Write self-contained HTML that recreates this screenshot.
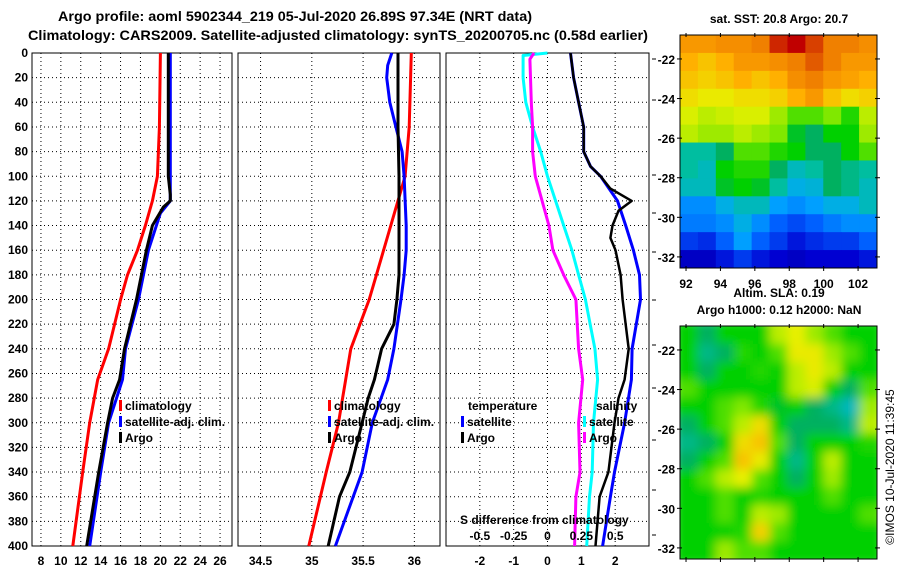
<!DOCTYPE html>
<html><head><meta charset="utf-8">
<style>
html,body{margin:0;padding:0;background:#fff;}
svg{display:block;font-family:"Liberation Sans",sans-serif;font-weight:bold;}
text{fill:#000;}
</style></head>
<body>
<svg id="chart" width="900" height="580" viewBox="0 0 900 580" xmlns="http://www.w3.org/2000/svg">
<text x="295" y="21" font-size="14" text-anchor="middle" textLength="474" lengthAdjust="spacingAndGlyphs">Argo profile: aoml 5902344_219 05-Jul-2020 26.89S 97.34E (NRT data)</text>
<text x="338" y="40" font-size="14" text-anchor="middle" textLength="620" lengthAdjust="spacingAndGlyphs">Climatology: CARS2009. Satellite-adjusted climatology: synTS_20200705.nc (0.58d earlier)</text>
<g id="plots"></g>
<g id="maps"></g>
<text transform="translate(894,467) rotate(-90)" font-size="12" font-weight="normal" text-anchor="middle">©IMOS 10-Jul-2020 11:39:45</text>
</svg>
<script>
// ---------- profile data ----------
const depthTicks = [0,20,40,60,80,100,120,140,160,180,200,220,240,260,280,300,320,340,360,380,400];
const tempTicks = [8,10,12,14,16,18,20,22,24,26];
const salTicks = [34.5,35,35.5,36];
const diffTicks = [-2,-1,0,1,2];
const sDiffTicks = [-0.5,-0.25,0,0.25,0.5];

const tClimDepth = [0,60,100,120,140,160,180,200,240,265,300,340,400];
const tClimVal   = [20.0,19.9,19.7,19.2,18.5,17.7,16.7,16.0,14.8,13.7,12.9,12.2,11.2];
const tSatDepth  = [0,60,120,130,160,200,240,265,300,340,400];
const tSatVal    = [21.0,21.0,21.0,20.0,18.8,17.8,16.5,16.2,14.8,14.0,12.9];
const tArgoDepth = [0,60,100,115,120,125,140,160,200,240,265,280,300,340,360,400];
const tArgoVal   = [20.8,20.8,20.8,21.0,21.0,20.3,19.2,18.6,17.6,16.4,15.9,15.2,14.7,13.8,13.4,12.6];

const sClimDepth = [0,60,100,140,180,200,240,300,340,400];
const sClimVal   = [35.97,35.95,35.91,35.77,35.63,35.56,35.38,35.26,35.14,34.97];
const sSatDepth  = [0,10,20,40,60,80,100,140,160,180,200,240,265,300,340,400];
const sSatVal    = [35.78,35.74,35.73,35.76,35.82,35.88,35.90,35.92,35.92,35.90,35.87,35.80,35.74,35.59,35.49,35.23];
const sArgoDepth = [0,60,100,140,180,200,220,240,265,280,300,340,360,400];
const sArgoVal   = [35.84,35.84,35.85,35.85,35.85,35.83,35.80,35.68,35.61,35.55,35.49,35.37,35.27,35.16];

const dTSatDepth  = [0,20,40,60,80,92,100,120,140,160,180,200,240,265,300,340,360,400];
const dTSatVal    = [0.68,0.77,0.92,1.07,1.07,1.27,1.57,2.07,2.31,2.54,2.72,2.75,2.5,2.48,2.28,1.98,1.86,1.63];
const dTArgoDepth = [0,20,40,60,80,92,100,110,120,128,140,150,160,180,200,240,265,280,300,340,360,400];
const dTArgoVal   = [0.68,0.77,0.92,1.07,1.07,1.27,1.57,1.86,2.49,2.10,1.92,1.86,2.01,2.16,2.22,2.4,2.28,2.1,1.98,1.8,1.54,1.42];
const dSSatDepth  = [0,2,20,40,60,80,100,120,140,160,180,200,240,265,300,340,360,400];
const dSSatVal    = [0,-0.18,-0.18,-0.16,-0.11,-0.05,0,0.06,0.12,0.18,0.23,0.28,0.35,0.37,0.34,0.33,0.31,0.29];
const dSArgoDepth = [0,5,40,60,80,100,120,140,160,180,200,240,265,300,340,360,400];
const dSArgoVal   = [-0.10,-0.13,-0.12,-0.11,-0.11,-0.09,-0.04,0.01,0.04,0.12,0.21,0.23,0.26,0.23,0.24,0.21,0.2];

// ---------- map data (rows lat -21..-33, cols lon 92..102) ----------
const sstGrid = [
[0.80,0.80,0.82,0.82,0.85,0.92,0.95,0.90,0.85,0.85,0.82],
[0.75,0.72,0.75,0.80,0.80,0.82,0.85,0.88,0.85,0.80,0.80],
[0.72,0.70,0.72,0.75,0.72,0.75,0.82,0.85,0.80,0.78,0.75],
[0.68,0.66,0.66,0.68,0.68,0.70,0.75,0.80,0.72,0.68,0.70],
[0.64,0.62,0.63,0.64,0.64,0.60,0.55,0.55,0.58,0.52,0.62],
[0.62,0.60,0.60,0.62,0.60,0.58,0.48,0.45,0.50,0.50,0.60],
[0.40,0.40,0.45,0.55,0.55,0.52,0.50,0.45,0.45,0.50,0.55],
[0.40,0.38,0.50,0.52,0.52,0.45,0.38,0.40,0.45,0.42,0.40],
[0.38,0.38,0.48,0.50,0.48,0.40,0.35,0.36,0.45,0.42,0.38],
[0.30,0.30,0.35,0.38,0.38,0.32,0.30,0.32,0.35,0.35,0.38],
[0.28,0.28,0.30,0.35,0.30,0.25,0.22,0.25,0.28,0.30,0.30],
[0.20,0.18,0.25,0.32,0.25,0.20,0.15,0.18,0.20,0.20,0.25],
[0.10,0.10,0.15,0.20,0.15,0.12,0.10,0.12,0.12,0.12,0.15]];
const slaGrid = [
[0.50,0.45,0.50,0.50,0.50,0.62,0.65,0.60,0.55,0.50,0.50],
[0.50,0.42,0.45,0.52,0.50,0.55,0.66,0.66,0.60,0.55,0.50],
[0.50,0.45,0.50,0.50,0.52,0.50,0.62,0.66,0.62,0.50,0.50],
[0.55,0.50,0.50,0.50,0.50,0.50,0.62,0.64,0.50,0.45,0.55],
[0.50,0.50,0.55,0.58,0.52,0.48,0.50,0.45,0.42,0.38,0.60],
[0.45,0.50,0.55,0.62,0.68,0.50,0.45,0.45,0.45,0.42,0.62],
[0.42,0.45,0.50,0.68,0.72,0.55,0.45,0.50,0.50,0.50,0.52],
[0.45,0.50,0.55,0.72,0.66,0.50,0.42,0.50,0.62,0.50,0.50],
[0.50,0.55,0.62,0.65,0.55,0.50,0.45,0.50,0.60,0.50,0.50],
[0.50,0.50,0.55,0.50,0.52,0.50,0.50,0.50,0.55,0.50,0.50],
[0.50,0.50,0.55,0.50,0.62,0.60,0.50,0.50,0.50,0.50,0.55],
[0.50,0.50,0.50,0.52,0.70,0.55,0.50,0.50,0.50,0.50,0.50],
[0.50,0.50,0.60,0.55,0.55,0.50,0.50,0.50,0.50,0.50,0.50]];
const lonTicks = [92,94,96,98,100,102];
const latTicks = [-22,-24,-26,-28,-30,-32];

const NS='http://www.w3.org/2000/svg';
function mk(tag, attrs, parent){const e=document.createElementNS(NS,tag);for(const k in attrs)e.setAttribute(k,attrs[k]);parent.appendChild(e);return e;}
const plots=document.getElementById('plots');
const TOP=53, BOT=546;
const yD = d => TOP + (d/400)*(BOT-TOP);

const panels = [
 {x0:32,x1:232,min:7.1,max:27.2,ticks:tempTicks,name:'temperature-panel'},
 {x0:238,x1:440,min:34.28,max:36.25,ticks:salTicks,name:'salinity-panel'},
 {x0:446,x1:649,min:-3.0,max:3.0,ticks:diffTicks,name:'difference-panel'}];
panels.forEach(p=>{p.sx=v=>p.x0+(v-p.min)/(p.max-p.min)*(p.x1-p.x0);});

panels.forEach((p,i)=>{
  const g=mk('g',{},plots);
  
  
  depthTicks.forEach(d=>{
    if(d>0&&d<400){const l=mk('line',{x1:p.x0,x2:p.x1,y1:yD(d),y2:yD(d),stroke:'#000','stroke-width':1,'stroke-dasharray':'1,3'},g);
     }
  });
  p.ticks.forEach(t=>{
    const x=p.sx(t);
    const l=mk('line',{x1:x,x2:x,y1:TOP,y2:BOT,stroke:'#000','stroke-width':1,'stroke-dasharray':'1,3'},g);
     
    const tx=mk('text',{x:x,y:565,'font-size':12,'text-anchor':'middle'},g);
    tx.textContent=t;
     
  });
  const r=mk('rect',{x:p.x0,y:TOP,width:p.x1-p.x0,height:BOT-TOP,fill:'none',stroke:'#000','stroke-width':1},g);
   
});
depthTicks.forEach(d=>{
  const t=mk('text',{x:28,y:yD(d)+4,'font-size':12,'text-anchor':'end'},plots);
  t.textContent=d;
   
});
[59,100,175,213,252,300,345,388,440,490,535].forEach(y=>{
  const l=mk('line',{x1:652,x2:656,y1:y,y2:y,stroke:'#000'},plots);
   
});

function line(p, depths, vals, color, w, name, scale){
  const s=scale||1;
  const pts=depths.map((d,i)=>p.sx(vals[i]*s).toFixed(1)+','+yD(d).toFixed(1)).join(' ');
  const pl=mk('polyline',{points:pts,fill:'none',stroke:color,'stroke-width':w,'stroke-linejoin':'round'},plots);
  
  
}
line(panels[0],tClimDepth,tClimVal,'#ff0000',3,'temp-climatology-line');
line(panels[0],tSatDepth,tSatVal,'#0000ff',3,'temp-satellite-line');
line(panels[0],tArgoDepth,tArgoVal,'#000000',3,'temp-argo-line');
line(panels[1],sClimDepth,sClimVal,'#ff0000',3,'sal-climatology-line');
line(panels[1],sSatDepth,sSatVal,'#0000ff',3,'sal-satellite-line');
line(panels[1],sArgoDepth,sArgoVal,'#000000',3,'sal-argo-line');
line(panels[2],dSSatDepth,dSSatVal,'#00ffff',3,'sdiff-satellite-line',4);
line(panels[2],dSArgoDepth,dSArgoVal,'#ff00ff',3,'sdiff-argo-line',4);
line(panels[2],dTSatDepth,dTSatVal,'#0000ff',3,'tdiff-satellite-line');
line(panels[2],dTArgoDepth,dTArgoVal,'#000000',2.5,'tdiff-argo-line');

function legend(x,y,color,label){
  const g=mk('g',{},plots);
  
  
  if(color) mk('rect',{x:x,y:y-10,width:3,height:11,fill:color},g);
  const t=mk('text',{x:x+6,y:y,'font-size':12},g); t.textContent=label;
}
legend(119,410,'#ff0000','climatology');
legend(119,426,'#0000ff','satellite-adj. clim.');
legend(119,442,'#000000','Argo');
legend(328,410,'#ff0000','climatology');
legend(328,426,'#0000ff','satellite-adj. clim.');
legend(328,442,'#000000','Argo');
legend(462,410,null,'temperature');
legend(461,426,'#0000ff','satellite');
legend(461,442,'#000000','Argo');
legend(590,410,null,'salinity');
legend(583,426,'#00ffff','satellite');
legend(583,442,'#ff00ff','Argo');
const sd=mk('text',{x:460,y:524,'font-size':12},plots);
sd.textContent='S difference from climatology';
 
sDiffTicks.forEach(v=>{
  const t=mk('text',{x:panels[2].sx(v*4),y:540,'font-size':12,'text-anchor':'middle'},plots);
  t.textContent=v;
   
});

// ---------- maps ----------
const stops=[[0,[0,0,127]],[0.12,[0,0,210]],[0.25,[0,96,255]],[0.33,[0,168,255]],[0.4,[0,190,160]],[0.45,[0,176,96]],[0.5,[0,208,0]],[0.58,[128,232,0]],[0.65,[232,240,0]],[0.75,[255,176,0]],[0.85,[240,128,0]],[0.95,[192,0,0]],[1,[150,0,0]]];
function cmap(v){for(let i=1;i<stops.length;i++){if(v<=stops[i][0]){const a=stops[i-1],b=stops[i],f=(v-a[0])/(b[0]-a[0]);return 'rgb('+a[1].map((c,k)=>Math.round(c+(b[1][k]-c)*f)).join(',')+')';}}return 'rgb(150,0,0)';}
const maps=document.getElementById('maps');
const defs=mk('defs',{},maps);
const flt=mk('filter',{id:'blur',x:'-5%',y:'-5%',width:'110%',height:'110%'},defs);
mk('feGaussianBlur',{stdDeviation:5},flt);
const MX0=680,MX1=877,LON0=91.65,LON1=103.1,LAT0=-20.79,LAT1=-32.56;
function drawMap(y0,y1,grid,name,blur,title1,title2,t1y,t2y){
  const g=mk('g',{},maps);
  
  
  const cid='clip'+name;
  const cp=mk('clipPath',{id:cid},defs); mk('rect',{x:MX0,y:y0,width:MX1-MX0,height:y1-y0},cp);
  const cg=mk('g',{'clip-path':'url(#'+cid+')'},g);
  const ig=mk('g',blur?{filter:'url(#blur)'}:{},cg);
  const rows=grid.length, cols=grid[0].length, cw=(MX1-MX0)/cols, ch=(y1-y0)/rows;
  grid.forEach((row,r)=>row.forEach((v,c)=>{
    const cell=mk('rect',{x:MX0+c*cw-(blur?6:0)*(c==0),y:y0+r*ch-(blur?6:0)*(r==0),width:cw+0.6+(blur?6:0)*(c==0||c==cols-1),height:ch+0.6+(blur?6:0)*(r==0||r==rows-1),fill:cmap(v)},ig);
    
    
  }));
  mk('rect',{x:MX0,y:y0,width:MX1-MX0,height:y1-y0,fill:'none',stroke:'#000','stroke-width':1},g);
  const lx=v=>MX0+(v-LON0)/(LON1-LON0)*(MX1-MX0);
  const ly=v=>y0+(v-LAT0)/(LAT1-LAT0)*(y1-y0);
  lonTicks.forEach(v=>{
    mk('line',{x1:lx(v),x2:lx(v),y1:y0-2,y2:y0+2,stroke:'#000'},g);
    mk('line',{x1:lx(v),x2:lx(v),y1:y1-2,y2:y1+3,stroke:'#000'},g);
  });
  latTicks.forEach(v=>{
    mk('line',{x1:MX0-3,x2:MX0+2,y1:ly(v),y2:ly(v),stroke:'#000'},g);
    mk('line',{x1:MX1-2,x2:MX1+3,y1:ly(v),y2:ly(v),stroke:'#000'},g);
    const t=mk('text',{x:675,y:ly(v)+5,'font-size':12,'text-anchor':'end'},g); t.textContent=v;
     
  });
  const tt=mk('text',{x:779,y:t1y,'font-size':12,'text-anchor':'middle'},g); tt.textContent=title1;
   
  if(title2){const t2=mk('text',{x:779,y:t2y,'font-size':12,'text-anchor':'middle'},g); t2.textContent=title2;}
  return lx;
}
const lx=drawMap(35,268,sstGrid,'sst-map',false,'sat. SST: 20.8 Argo: 20.7',null,23,0);
lonTicks.forEach(v=>{
  const t=mk('text',{x:lx(v),y:288,'font-size':12,'text-anchor':'middle'},maps); t.textContent=v;
   
});
drawMap(326,559,slaGrid,'sla-map',true,'Altim. SLA: 0.19','Argo h1000: 0.12 h2000: NaN',297,314);
</script>
</body></html>
